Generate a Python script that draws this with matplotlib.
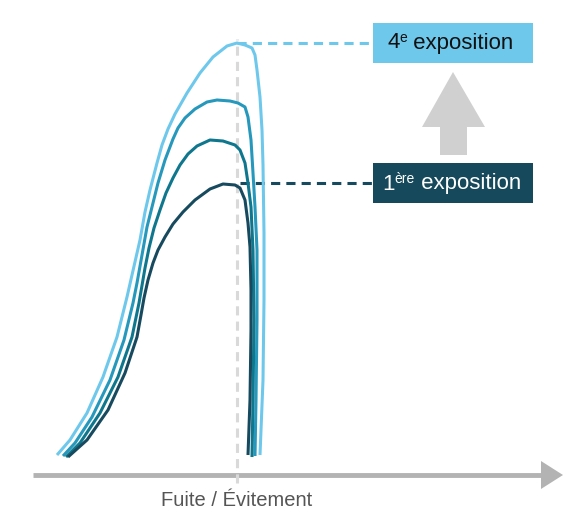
import matplotlib
matplotlib.use("Agg")
import matplotlib.pyplot as plt
from matplotlib.patches import Polygon, Rectangle

plt.rcParams['font.family'] = ['Liberation Sans', 'DejaVu Sans']

# response curves, one per exposure (x = time, y = intensity above the axis)
expo1_x = [68, 87, 108, 125, 137, 141, 144, 148, 153, 158, 165, 173, 183, 195, 210, 223, 235, 240, 245, 248, 250,
           251, 251, 250, 248]
expo1_y = [18, 35, 65, 102, 138, 160, 177, 195, 212, 225, 238, 251, 263, 275, 286, 291, 290, 287, 275, 252, 228,
           185, 145, 75, 20]

expo2_x = [66, 80, 100, 118, 132, 139, 145, 149, 154, 160, 166, 173, 180, 188, 197, 210, 223, 235, 240, 245, 248,
           251, 253, 254, 253, 252]
expo2_y = [18, 32, 62, 98, 138, 172, 207, 227, 247, 265, 282, 297, 310, 321, 329, 335, 334, 330, 325, 312, 292,
           268, 225, 155, 75, 18]

expo3_x = [63, 75, 92, 110, 124, 133, 137, 142, 147, 153, 158, 165, 173, 178, 185, 195, 207, 217, 230, 238, 245,
           248, 251, 253, 255, 257, 257, 256, 255]
expo3_y = [19, 32, 58, 95, 135, 172, 192, 220, 248, 272, 292, 315, 336, 347, 357, 366, 373, 375, 374, 372, 368,
           358, 335, 302, 268, 225, 155, 75, 19]

expo4_x = [57, 70, 87, 103, 117, 127, 132, 140, 145, 150, 157, 162, 168, 175, 187, 200, 213, 227, 237, 245, 252,
           255, 257, 260, 262, 263, 264, 264, 263, 260]
expo4_y = [20, 35, 62, 98, 138, 178, 200, 235, 263, 285, 312, 330, 346, 361, 382, 402, 418, 429, 432, 430, 427,
           420, 405, 378, 345, 310, 242, 175, 95, 20]

peak_x = 237
peak_first = 292
peak_fourth = 432

# label pieces: number, superscript, rest
label_first = ("1", "ère", " exposition")
label_fourth = ("4", "e", " exposition")
axis_label = "Fuite / Évitement"

c_dark = "#174a5e"
c_teal = "#0f778d"
c_mid = "#2698bc"
c_light = "#6ec8ec"

fig = plt.figure(figsize=(5.63, 5.12), dpi=100)
ax = fig.add_axes([0, 0, 1, 1])
ax.set_xlim(0, 563)
ax.set_ylim(-37, 475)
ax.axis("off")

# time axis with arrow head
ax.plot([33, 544], [0, 0], color="#b3b3b3", lw=3.5, solid_capstyle="butt", zorder=1)
ax.add_patch(Polygon([[541, 14], [541, -14], [563, 0]], closed=True, color="#b3b3b3", lw=0, zorder=1))

# vertical marker at the escape point
ax.plot([peak_x, peak_x], [-8, 436], color="#d9d9d9", lw=2.2, dashes=(3, 2), zorder=2)

for xs, ys, c in [(expo4_x, expo4_y, c_light), (expo3_x, expo3_y, c_mid),
                  (expo2_x, expo2_y, c_teal), (expo1_x, expo1_y, c_dark)]:
    ax.plot(xs, ys, color=c, lw=2.2, solid_capstyle="butt", solid_joinstyle="round", zorder=3)

# dashed leaders to the label boxes
ax.plot([peak_x, 373], [peak_fourth, peak_fourth], color=c_light, lw=2.2, dashes=(3, 2), zorder=2)
ax.plot([peak_x + 3, 373], [peak_first, peak_first], color=c_dark, lw=2.2, dashes=(3, 2), zorder=2)

ax.add_patch(Rectangle((373, 412), 160, 40, color=c_light, lw=0, zorder=4))
ax.add_patch(Rectangle((373, 272), 160, 40, color="#16495b", lw=0, zorder=4))


def box_label(x, y, parts, color):
    base = ax.text(x, y, parts[0], ha="left", va="center", fontsize=16, color=color, zorder=5)
    sup = ax.annotate(parts[1], xy=(1, 1.06), xycoords=base, ha="left", va="top",
                      fontsize=10, color=color, zorder=5)
    ax.annotate(parts[2], xy=(1, 0.5), xycoords=(sup, base), ha="left", va="center",
                fontsize=16, color=color, zorder=5)


box_label(387, 432, label_fourth, "#111111")
box_label(382, 291, label_first, "white")

# grey arrow between the two boxes
ax.add_patch(Polygon([[440, 320], [467, 320], [467, 348], [485, 348], [453, 403],
                      [422, 348], [440, 348]], closed=True, color="#d0d0d0", lw=0, zorder=4))

ax.text(peak_x, -25, axis_label, ha="center", va="center", fontsize=14.5, color="#555555")

fig.savefig("out.png", dpi=100)
